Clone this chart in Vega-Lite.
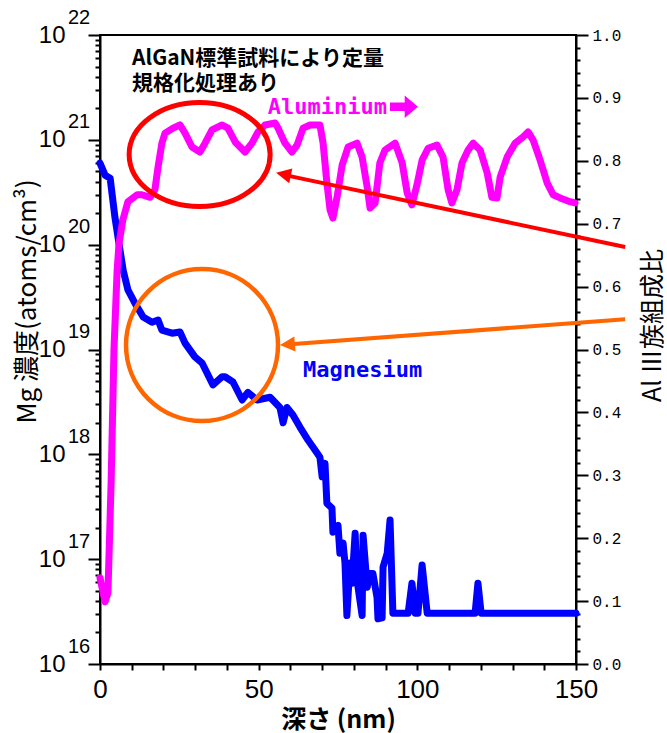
{
  "$schema": "https://vega.github.io/schema/vega-lite/v6.json",
  "width": 476,
  "height": 629,
  "autosize": {"type": "none"},
  "padding": {"left": 100, "top": 35, "right": 91, "bottom": 69},
  "background": "white",
  "config": {
    "view": {"stroke": "black", "strokeWidth": 2},
    "axis": {"grid": false, "ticks": true, "domainColor": "#000000", "domainWidth": 2, "tickColor": "#000000", "tickWidth": 2, "labelColor": "#000000", "titleColor": "#000000"}
  },
  "datasets": {
    "mg": [
      {"depth": 0, "conc": 6.0e20}, {"depth": 1.6, "conc": 4.6e20}, {"depth": 3.2, "conc": 4.3e20}, {"depth": 4.7, "conc": 1.83e20},
      {"depth": 6.3, "conc": 8.9e19}, {"depth": 7.3, "conc": 5.7e19}, {"depth": 8.8, "conc": 3.7e19}, {"depth": 11.0, "conc": 2.77e19},
      {"depth": 13.6, "conc": 2.04e19}, {"depth": 16.4, "conc": 1.82e19}, {"depth": 18.3, "conc": 1.91e19}, {"depth": 19.5, "conc": 1.53e19},
      {"depth": 22.7, "conc": 1.43e19}, {"depth": 25.2, "conc": 1.47e19}, {"depth": 26.8, "conc": 1.15e19}, {"depth": 29.9, "conc": 8.5e18},
      {"depth": 32.2, "conc": 7.4e18}, {"depth": 35.6, "conc": 4.6e18}, {"depth": 38.5, "conc": 5.5e18}, {"depth": 39.4, "conc": 5.5e18},
      {"depth": 41.9, "conc": 4.9e18}, {"depth": 44.8, "conc": 3.3e18}, {"depth": 46.6, "conc": 3.9e18}, {"depth": 49.5, "conc": 3.3e18},
      {"depth": 53.6, "conc": 3.5e18}, {"depth": 56.7, "conc": 2.8e18}, {"depth": 57.7, "conc": 2.0e18}, {"depth": 58.9, "conc": 2.8e18},
      {"depth": 60.8, "conc": 2.37e18}, {"depth": 63.0, "conc": 1.82e18}, {"depth": 65.6, "conc": 1.36e18}, {"depth": 68.4, "conc": 1.03e18},
      {"depth": 69.3, "conc": 9.4e17}, {"depth": 70.0, "conc": 6.1e17}, {"depth": 70.9, "conc": 8.2e17}, {"depth": 71.5, "conc": 3.4e17},
      {"depth": 73.1, "conc": 3.07e17}, {"depth": 73.4, "conc": 1.81e17}, {"depth": 75.0, "conc": 2.1e17}, {"depth": 75.6, "conc": 1.14e17},
      {"depth": 76.6, "conc": 1.42e17}, {"depth": 77.2, "conc": 9.2e16}, {"depth": 77.8, "conc": 2.9e16}, {"depth": 78.8, "conc": 9.2e16},
      {"depth": 79.4, "conc": 5.9e16}, {"depth": 80.4, "conc": 1.77e17}, {"depth": 81.0, "conc": 6.3e16}, {"depth": 82.6, "conc": 2.9e16},
      {"depth": 82.9, "conc": 1.69e17}, {"depth": 84.2, "conc": 5.4e16}, {"depth": 85.1, "conc": 7.3e16}, {"depth": 86.0, "conc": 7.3e16},
      {"depth": 87.3, "conc": 4.3e16}, {"depth": 87.6, "conc": 2.7e16}, {"depth": 88.9, "conc": 2.75e16}, {"depth": 89.2, "conc": 8.4e16},
      {"depth": 90.5, "conc": 1.14e17}, {"depth": 91.4, "conc": 2.36e17}, {"depth": 92.3, "conc": 3.05e16}, {"depth": 97.1, "conc": 3.05e16},
      {"depth": 98.3, "conc": 5.9e16}, {"depth": 99.3, "conc": 3.05e16}, {"depth": 100.2, "conc": 3.05e16}, {"depth": 101.5, "conc": 8.8e16},
      {"depth": 103.1, "conc": 3.05e16}, {"depth": 118.2, "conc": 3.05e16}, {"depth": 119.1, "conc": 5.9e16}, {"depth": 120.1, "conc": 3.05e16},
      {"depth": 150, "conc": 3.05e16}
    ],
    "exps": [
      {"depth": 0, "conc": 1e16, "exp": "16"}, {"depth": 0, "conc": 1e17, "exp": "17"}, {"depth": 0, "conc": 1e18, "exp": "18"}, {"depth": 0, "conc": 1e19, "exp": "19"},
      {"depth": 0, "conc": 1e20, "exp": "20"}, {"depth": 0, "conc": 1e21, "exp": "21"}, {"depth": 0, "conc": 1e22, "exp": "22"}
    ],
    "al": [
      {"depth": 0, "al": 0.137}, {"depth": 1.6, "al": 0.099}, {"depth": 2.5, "al": 0.113}, {"depth": 3.5, "al": 0.288},
      {"depth": 4.4, "al": 0.499}, {"depth": 5.4, "al": 0.626}, {"depth": 6.0, "al": 0.669}, {"depth": 7.2, "al": 0.706},
      {"depth": 8.8, "al": 0.735}, {"depth": 11.7, "al": 0.746}, {"depth": 13.2, "al": 0.746}, {"depth": 15.8, "al": 0.742},
      {"depth": 17.3, "al": 0.754}, {"depth": 18.3, "al": 0.790}, {"depth": 19.5, "al": 0.828}, {"depth": 20.5, "al": 0.844},
      {"depth": 23.0, "al": 0.852}, {"depth": 25.2, "al": 0.857}, {"depth": 26.8, "al": 0.844}, {"depth": 29.0, "al": 0.822},
      {"depth": 31.5, "al": 0.814}, {"depth": 33.1, "al": 0.828}, {"depth": 35.3, "al": 0.849}, {"depth": 38.5, "al": 0.857},
      {"depth": 40.3, "al": 0.852}, {"depth": 42.6, "al": 0.830}, {"depth": 45.7, "al": 0.814}, {"depth": 47.9, "al": 0.828},
      {"depth": 49.8, "al": 0.846}, {"depth": 52.0, "al": 0.857}, {"depth": 55.2, "al": 0.860}, {"depth": 56.1, "al": 0.852},
      {"depth": 58.3, "al": 0.828}, {"depth": 60.5, "al": 0.814}, {"depth": 62.1, "al": 0.825}, {"depth": 64.0, "al": 0.852},
      {"depth": 66.2, "al": 0.857}, {"depth": 69.3, "al": 0.857}, {"depth": 70.3, "al": 0.828}, {"depth": 71.5, "al": 0.765},
      {"depth": 72.5, "al": 0.722}, {"depth": 73.4, "al": 0.709}, {"depth": 74.7, "al": 0.742}, {"depth": 76.3, "al": 0.793},
      {"depth": 78.2, "al": 0.822}, {"depth": 81.0, "al": 0.828}, {"depth": 82.6, "al": 0.806}, {"depth": 84.2, "al": 0.758},
      {"depth": 85.1, "al": 0.725}, {"depth": 86.7, "al": 0.733}, {"depth": 88.2, "al": 0.797}, {"depth": 89.8, "al": 0.817},
      {"depth": 93.0, "al": 0.828}, {"depth": 95.2, "al": 0.797}, {"depth": 96.8, "al": 0.749}, {"depth": 98.3, "al": 0.730},
      {"depth": 99.9, "al": 0.762}, {"depth": 101.5, "al": 0.801}, {"depth": 103.4, "al": 0.820}, {"depth": 106.2, "al": 0.825},
      {"depth": 108.1, "al": 0.806}, {"depth": 109.7, "al": 0.754}, {"depth": 110.9, "al": 0.733}, {"depth": 112.5, "al": 0.754},
      {"depth": 114.1, "al": 0.797}, {"depth": 116.0, "al": 0.817}, {"depth": 117.6, "al": 0.828}, {"depth": 119.8, "al": 0.817},
      {"depth": 122.0, "al": 0.781}, {"depth": 123.5, "al": 0.742}, {"depth": 125.1, "al": 0.741}, {"depth": 126.1, "al": 0.774},
      {"depth": 128.3, "al": 0.806}, {"depth": 130.8, "al": 0.828}, {"depth": 133.3, "al": 0.838}, {"depth": 134.9, "al": 0.846},
      {"depth": 136.5, "al": 0.833}, {"depth": 138.7, "al": 0.801}, {"depth": 140.9, "al": 0.765}, {"depth": 142.8, "al": 0.746},
      {"depth": 145.0, "al": 0.741}, {"depth": 148.1, "al": 0.735}, {"depth": 149.7, "al": 0.733}
    ]
  },
  "layer": [
    {
      "resolve": {"axis": {"x": "independent", "y": "independent"}},
      "layer": [
        {
          "data": {"name": "mg"},
          "mark": {"type": "line", "color": "#0000ff", "strokeWidth": 7, "strokeCap": "round", "strokeJoin": "round"},
          "encoding": {
            "x": {
              "field": "depth", "type": "quantitative",
              "scale": {"domain": [0, 150], "nice": false, "zero": false},
              "axis": {
                "orient": "bottom",
                "values": [0, 50, 100, 150],
                "tickSize": 6,
                "labelFont": "Liberation Sans Narrow, Liberation Sans",
                "labelFontSize": 26,
                "labelPadding": 6,
                "labelFlush": false,
                "labelOverlap": false,
                "title": "深さ (nm)",
                "titleFont": "Noto Sans CJK JP",
                "titleFontSize": 25,
                "titleFontWeight": "bold",
                "titlePadding": 5
              }
            },
            "y": {
              "field": "conc", "type": "quantitative",
              "scale": {"type": "log", "domain": [1e16, 1e22], "nice": false},
              "axis": {
                "orient": "left",
                "values": [1e16, 1e17, 1e18, 1e19, 1e20, 1e21, 1e22],
                "labelExpr": "'10'",
                "tickSize": 12,
                "labelFont": "Liberation Sans Narrow, Liberation Sans",
                "labelFontSize": 24,
                "labelPadding": 23,
                "labelBaseline": "middle",
                "labelAlign": "right",
                "labelFlush": false,
                "labelOverlap": false,
                "title": "Mg 濃度(atoms/cm³)",
                "titleFont": "Noto Sans CJK JP",
                "titleFontSize": 26,
                "titleFontWeight": "normal",
                "titleAngle": 270,
                "titleX": -73,
                "titleY": 266,
                "titleAlign": "center",
                "titleBaseline": "middle"
              }
            }
          }
        },
        {
          "data": {"name": "exps"},
          "mark": {"type": "text", "align": "left", "baseline": "middle", "dx": -32, "dy": -17.5, "font": "Liberation Sans Narrow, Liberation Sans", "fontSize": 20, "color": "black"},
          "encoding": {
            "x": {
              "field": "depth", "type": "quantitative", "scale": {"domain": [0, 150], "nice": false, "zero": false},
              "axis": {
                "orient": "bottom",
                "values": [10, 20, 30, 40, 60, 70, 80, 90, 110, 120, 130, 140],
                "tickSize": 6,
                "labels": false,
                "domain": false,
                "title": null
              }
            },
            "y": {
              "field": "conc", "type": "quantitative",
              "axis": {
                "orient": "left",
                "values": [2e16, 3e16, 4e16, 5e16, 6e16, 7e16, 8e16, 9e16,
                           2e17, 3e17, 4e17, 5e17, 6e17, 7e17, 8e17, 9e17,
                           2e18, 3e18, 4e18, 5e18, 6e18, 7e18, 8e18, 9e18,
                           2e19, 3e19, 4e19, 5e19, 6e19, 7e19, 8e19, 9e19,
                           2e20, 3e20, 4e20, 5e20, 6e20, 7e20, 8e20, 9e20,
                           2e21, 3e21, 4e21, 5e21, 6e21, 7e21, 8e21, 9e21],
                "tickSize": 5,
                "labels": false,
                "domain": false,
                "title": null
              }
            },
            "text": {"field": "exp"}
          }
        }
      ]
    },
    {
      "resolve": {"axis": {"y": "independent"}},
      "layer": [
        {
          "data": {"name": "al"},
          "mark": {"type": "line", "color": "#ff00ff", "strokeWidth": 7, "strokeCap": "round", "strokeJoin": "round"},
          "encoding": {
            "x": {"field": "depth", "type": "quantitative", "scale": {"domain": [0, 150], "nice": false, "zero": false}, "axis": null},
            "y": {
              "field": "al", "type": "quantitative",
              "scale": {"domain": [0, 1], "nice": false, "zero": false},
              "axis": {
                "orient": "right",
                "values": [0, 0.1, 0.2, 0.3, 0.4, 0.5, 0.6, 0.7, 0.8, 0.9, 1],
                "format": ".1f",
                "tickSize": 12,
                "labelFont": "Liberation Mono",
                "labelFontSize": 16,
                "labelPadding": 4,
                "labelBaseline": "middle",
                "labelFlush": false,
                "labelOverlap": false,
                "title": "Al Ⅲ族組成比",
                "titleFont": "Noto Sans CJK JP",
                "titleFontSize": 25,
                "titleFontWeight": "normal",
                "titleAngle": 270,
                "titleX": 76,
                "titleY": 290,
                "titleAlign": "center",
                "titleBaseline": "middle"
              }
            }
          }
        },
        {
          "data": {"values": [{"depth": 31.4, "al": 0.810}]},
          "mark": {"type": "point", "shape": "M1,0C1,0.408,0.552,0.738,0,0.738C-0.552,0.738,-1,0.408,-1,0C-1,-0.408,-0.552,-0.738,0,-0.738C0.552,-0.738,1,-0.408,1,0Z", "size": 19881, "filled": false, "stroke": "#ff0000", "strokeWidth": 5, "opacity": 1},
          "encoding": {
            "x": {"field": "depth", "type": "quantitative", "scale": {"domain": [0, 150], "nice": false, "zero": false}, "axis": null},
            "y": {
              "field": "al", "type": "quantitative", "scale": {"domain": [0, 1], "nice": false, "zero": false},
              "axis": {
                "orient": "right",
                "values": [0.02, 0.04, 0.06, 0.08, 0.12, 0.14, 0.16, 0.18, 0.22, 0.24, 0.26, 0.28, 0.32, 0.34, 0.36, 0.38, 0.42, 0.44, 0.46, 0.48, 0.52, 0.54, 0.56, 0.58, 0.62, 0.64, 0.66, 0.68, 0.72, 0.74, 0.76, 0.78, 0.82, 0.84, 0.86, 0.88, 0.92, 0.94, 0.96, 0.98],
                "tickSize": 4,
                "labels": false,
                "domain": false,
                "title": null
              }
            }
          }
        },
        {
          "data": {"values": [{"depth": 32.15, "al": 0.507}]},
          "mark": {"type": "point", "shape": "circle", "size": 23104, "filled": false, "stroke": "#ff6600", "strokeWidth": 4.5, "opacity": 1},
          "encoding": {
            "x": {"field": "depth", "type": "quantitative", "scale": {"domain": [0, 150], "nice": false, "zero": false}, "axis": null},
            "y": {"field": "al", "type": "quantitative", "scale": {"domain": [0, 1], "nice": false, "zero": false}, "axis": null}
          }
        },
        {
          "data": {"values": [{"depth": 165.5, "al": 0.663, "depth2": 57.6, "al2": 0.778}]},
          "mark": {"type": "rule", "color": "#ff0000", "strokeWidth": 4},
          "encoding": {
            "x": {"field": "depth", "type": "quantitative", "scale": {"domain": [0, 150], "nice": false, "zero": false}, "axis": null},
            "y": {"field": "al", "type": "quantitative", "scale": {"domain": [0, 1], "nice": false, "zero": false}, "axis": null},
            "x2": {"field": "depth2"},
            "y2": {"field": "al2"}
          }
        },
        {
          "data": {"values": [{"depth": 55.5, "al": 0.781}]},
          "mark": {"type": "point", "shape": "M0,0L2,-1L2,1Z", "size": 225, "filled": true, "color": "#ff0000", "opacity": 1, "angle": 12},
          "encoding": {
            "x": {"field": "depth", "type": "quantitative", "scale": {"domain": [0, 150], "nice": false, "zero": false}, "axis": null},
            "y": {"field": "al", "type": "quantitative", "scale": {"domain": [0, 1], "nice": false, "zero": false}, "axis": null}
          }
        },
        {
          "data": {"values": [{"depth": 165.5, "al": 0.548, "depth2": 58.9, "al2": 0.508}]},
          "mark": {"type": "rule", "color": "#ff6600", "strokeWidth": 4},
          "encoding": {
            "x": {"field": "depth", "type": "quantitative", "scale": {"domain": [0, 150], "nice": false, "zero": false}, "axis": null},
            "y": {"field": "al", "type": "quantitative", "scale": {"domain": [0, 1], "nice": false, "zero": false}, "axis": null},
            "x2": {"field": "depth2"},
            "y2": {"field": "al2"}
          }
        },
        {
          "data": {"values": [{"depth": 56.7, "al": 0.507}]},
          "mark": {"type": "point", "shape": "M0,0L2,-1L2,1Z", "size": 225, "filled": true, "color": "#ff6600", "opacity": 1, "angle": -4.3},
          "encoding": {
            "x": {"field": "depth", "type": "quantitative", "scale": {"domain": [0, 150], "nice": false, "zero": false}, "axis": null},
            "y": {"field": "al", "type": "quantitative", "scale": {"domain": [0, 1], "nice": false, "zero": false}, "axis": null}
          }
        },
        {
          "data": {"values": [{"depth": 10.1, "al": 0.962, "label": "AlGaN標準試料により定量\n規格化処理あり"}]},
          "mark": {"type": "text", "align": "left", "baseline": "middle", "lineBreak": "\n", "lineHeight": 25, "font": "Noto Sans CJK JP", "fontSize": 21, "fontWeight": "bold", "color": "black"},
          "encoding": {
            "x": {"field": "depth", "type": "quantitative", "scale": {"domain": [0, 150], "nice": false, "zero": false}, "axis": null},
            "y": {"field": "al", "type": "quantitative", "scale": {"domain": [0, 1], "nice": false, "zero": false}, "axis": null},
            "text": {"field": "label"}
          }
        },
        {
          "data": {"values": [{"depth": 52.9, "al": 0.886, "label": "Aluminium"}]},
          "mark": {"type": "text", "align": "left", "baseline": "middle", "font": "DejaVu Sans Mono", "fontSize": 22, "fontWeight": "bold", "color": "#ff00ff"},
          "encoding": {
            "x": {"field": "depth", "type": "quantitative", "scale": {"domain": [0, 150], "nice": false, "zero": false}, "axis": null},
            "y": {"field": "al", "type": "quantitative", "scale": {"domain": [0, 1], "nice": false, "zero": false}, "axis": null},
            "text": {"field": "label"}
          }
        },
        {
          "data": {"values": [{"depth": 95.8, "al": 0.886}]},
          "mark": {"type": "point", "shape": "M-1,-0.3L0.05,-0.3L0.05,-0.8L1,0L0.05,0.8L0.05,0.3L-1,0.3Z", "size": 784, "filled": true, "color": "#ff00ff", "opacity": 1},
          "encoding": {
            "x": {"field": "depth", "type": "quantitative", "scale": {"domain": [0, 150], "nice": false, "zero": false}, "axis": null},
            "y": {"field": "al", "type": "quantitative", "scale": {"domain": [0, 1], "nice": false, "zero": false}, "axis": null}
          }
        },
        {
          "data": {"values": [{"depth": 64.0, "al": 0.467, "label": "Magnesium"}]},
          "mark": {"type": "text", "align": "left", "baseline": "middle", "font": "DejaVu Sans Mono", "fontSize": 22, "fontWeight": "bold", "color": "#0000ff"},
          "encoding": {
            "x": {"field": "depth", "type": "quantitative", "scale": {"domain": [0, 150], "nice": false, "zero": false}, "axis": null},
            "y": {"field": "al", "type": "quantitative", "scale": {"domain": [0, 1], "nice": false, "zero": false}, "axis": null},
            "text": {"field": "label"}
          }
        }
      ]
    }
  ],
  "resolve": {"scale": {"y": "independent"}}
}
